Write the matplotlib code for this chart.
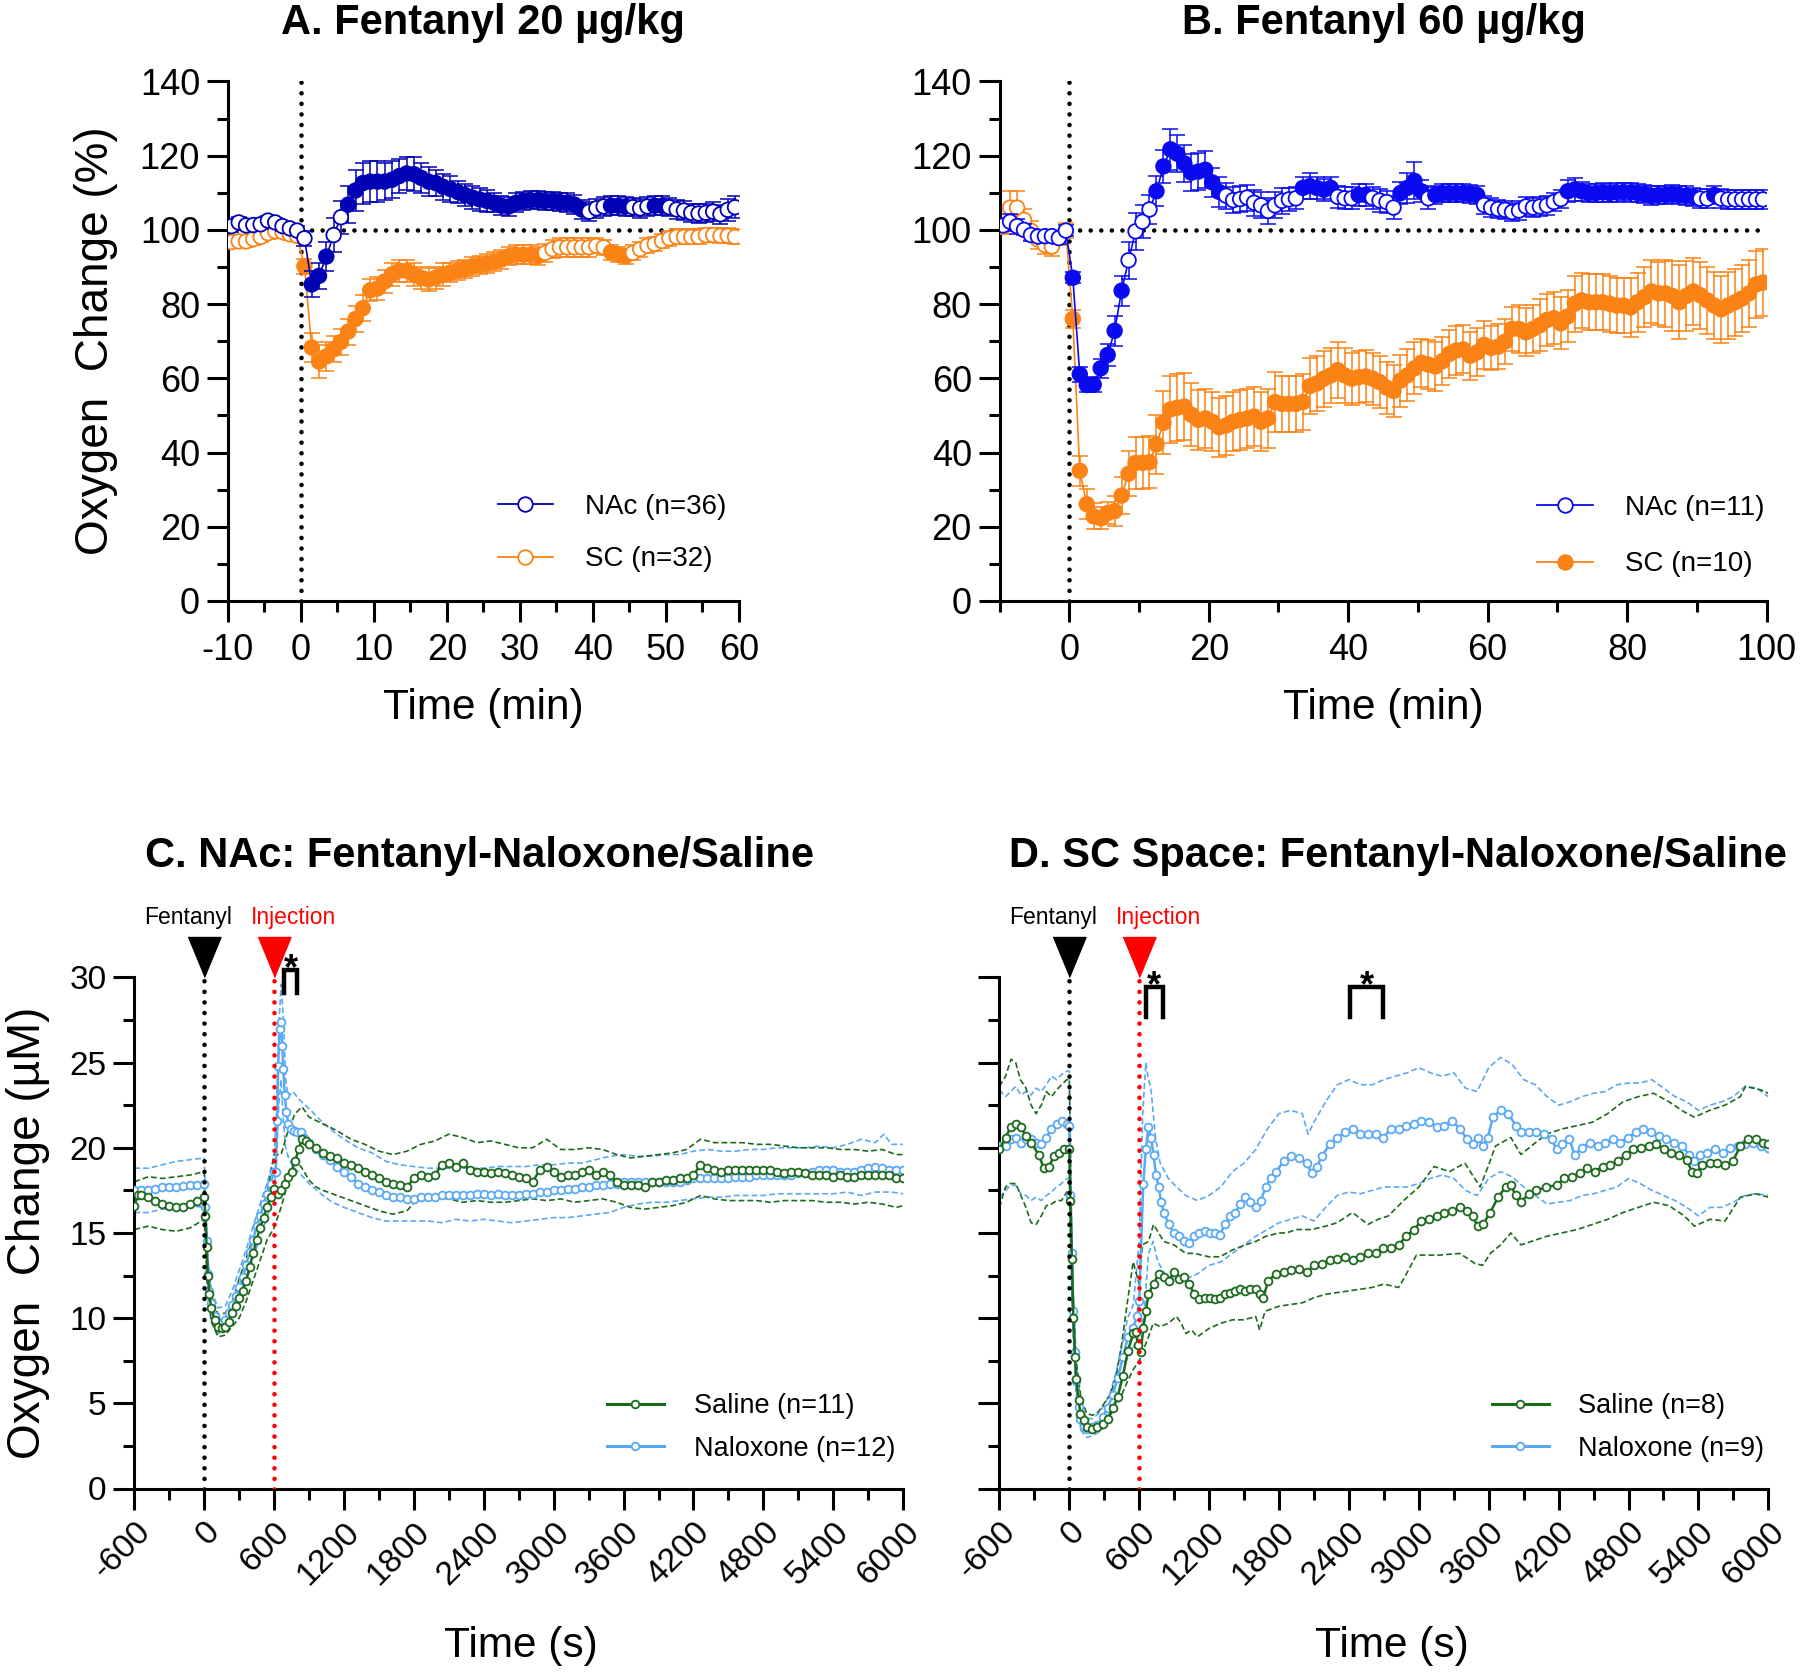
import numpy as np
import matplotlib
matplotlib.use('Agg')
import matplotlib.pyplot as plt
from matplotlib.lines import Line2D
from matplotlib import font_manager as fm

# ======================= DATA =======================
# Panel A: Fentanyl 20 ug/kg (1-min bins, centred on half minutes)
a_time = np.arange(-9.5, 60, 1.0)
a_nac = [101.0, 102.0, 101.2, 101.3, 101.5, 102.5, 102.0, 101.0, 100.4, 99.8,
         97.7, 85.3, 87.6, 92.8, 98.6, 103.4, 106.8, 110.6, 112.6, 113.0,
         113.0, 113.0, 113.5, 114.5, 115.2, 115.0, 114.0, 113.0, 112.6, 111.6,
         111.0, 110.2, 109.4, 108.7, 108.2, 107.8, 107.3, 106.5, 106.3, 107.3,
         107.8, 108.0, 108.0, 107.8, 107.8, 107.5, 107.3, 106.8, 105.5, 104.9,
         105.8, 106.3, 106.5, 106.5, 106.3, 106.1, 105.8, 106.3, 106.5, 106.5,
         106.1, 105.5, 105.2, 104.6, 104.4, 104.6, 104.9, 104.2, 105.4, 106.1]
a_nac_sem = [1.5, 1.5, 1.2, 1.2, 1.2, 1.2, 1.2, 1.2, 1.2, 1.2,
             2.0, 3.5, 3.5, 4.0, 4.5, 4.5, 5.0, 5.5, 5.5, 5.5,
             5.5, 5.0, 5.0, 4.5, 4.5, 4.5, 4.0, 4.0, 3.5, 3.5,
             3.5, 3.0, 3.0, 3.0, 3.0, 3.0, 2.5, 2.5, 2.5, 2.5,
             2.5, 2.5, 2.5, 2.5, 2.5, 2.5, 2.5, 2.5, 2.5, 2.5,
             2.5, 2.5, 2.5, 2.5, 2.5, 2.5, 2.5, 2.5, 2.5, 2.5,
             2.5, 2.5, 2.5, 2.5, 2.5, 2.5, 2.5, 2.5, 3.0, 3.0]
a_nac_sig = [(1.5, 3.5), (6.5, 38.5), (42.5, 44.5), (48.5, 49.5)]
a_sc = [96.7, 96.9, 96.9, 97.5, 98.1, 99.1, 99.6, 99.4, 98.8, 98.4,
        90.2, 68.3, 64.5, 65.9, 67.8, 69.8, 72.6, 76.0, 78.9, 83.7,
        84.2, 86.1, 88.0, 89.0, 89.0, 88.0, 87.1, 86.6, 87.1, 88.0,
        88.5, 89.0, 89.5, 90.2, 90.5, 90.9, 91.4, 92.0, 92.9, 93.3,
        93.3, 93.3, 92.9, 93.8, 94.8, 95.3, 95.3, 95.3, 95.3, 95.3,
        95.7, 95.3, 94.0, 93.3, 92.9, 93.8, 94.8, 95.7, 96.2, 97.0,
        97.7, 98.1, 98.1, 98.1, 98.1, 98.6, 98.6, 98.4, 98.4, 98.1]
a_sc_sem = [1.5] * 10 + \
           [2.0, 4.0, 4.5, 4.0, 3.5, 3.5, 3.5, 3.5, 3.5, 3.0] + \
           [3.0] * 10 + [2.5] * 10 + [2.5] * 10 + [2.0] * 10 + [2.0] * 10
a_sc_sig = [(0.5, 32.5), (42.5, 44.5)]

# Panel B: Fentanyl 60 ug/kg
b_time = np.arange(-9.5, 100, 1.0)
b_nac = [101.2, 102.2, 101.0, 100.0, 98.6, 98.2, 98.3, 98.3, 97.8, 99.8,
         87.1, 61.1, 58.2, 58.3, 62.7, 66.3, 72.8, 83.6, 91.8, 99.6,
         102.2, 105.5, 110.4, 117.1, 121.7, 120.5, 117.9, 115.4, 115.7, 116.2,
         112.8, 110.2, 109.2, 108.0, 108.3, 108.7, 107.3, 106.6, 105.1, 106.6,
         107.8, 108.2, 108.5, 111.3, 111.8, 111.3, 110.8, 111.3, 108.9, 108.5,
         108.5, 109.4, 109.4, 108.6, 107.9, 107.5, 106.0, 109.9, 111.3, 113.2,
         110.4, 108.5, 109.4, 109.9, 109.9, 109.9, 109.9, 109.7, 109.4, 106.7,
         106.0, 105.6, 105.4, 104.8, 105.2, 106.3, 106.0, 106.3, 106.6, 107.5,
         108.3, 110.4, 110.9, 110.4, 109.9, 109.9, 110.1, 109.9, 110.1, 110.2,
         110.1, 109.9, 109.7, 109.2, 109.4, 109.4, 109.7, 109.4, 109.2, 108.9,
         108.4, 108.4, 109.4, 108.4, 108.2, 108.2, 108.2, 108.2, 108.2, 108.2]
b_nac_sem = [1.5, 2.0, 2.0, 1.5, 1.5, 1.5, 1.5, 1.5, 1.5, 1.5,
             1.5, 2.0, 2.0, 2.0, 2.5, 3.0, 4.0, 4.0, 5.0, 5.0,
             4.5, 4.0, 4.0, 4.5, 5.5, 5.0, 5.0, 5.0, 5.0, 5.0,
             4.0, 4.0, 3.5, 3.5, 3.5, 3.5, 3.5, 3.5, 3.5, 3.5,
             3.5, 3.0, 3.0, 3.0, 3.5, 3.0, 3.0, 3.0, 3.0, 3.0,
             3.0, 3.0, 3.0, 3.0, 3.0, 3.0, 3.0, 3.0, 4.0, 5.0,
             3.0, 3.0, 2.5, 2.5, 2.5, 2.5, 2.5, 2.5, 2.5, 2.5,
             2.5, 2.5, 2.5, 2.5, 2.5, 2.5, 2.5, 2.5, 2.5, 2.5,
             2.5, 3.0, 3.0, 2.5, 2.5, 2.5, 2.5, 2.5, 2.5, 2.5,
             2.5, 2.5, 2.5, 2.5, 2.5, 2.5, 2.5, 2.5, 2.5, 2.5,
             2.5, 2.5, 2.5, 2.5, 2.5, 2.5, 2.5, 2.5, 2.5, 2.5]
b_nac_sig = [(0.5, 7.5), (12.5, 21.5), (33.5, 37.5), (41.5, 42.5),
             (47.5, 50.5), (52.5, 58.5), (71.5, 89.5), (92.5, 92.5)]
b_sc = [100.8, 106.0, 106.0, 102.7, 99.8, 97.4, 95.9, 95.5, 97.8, 99.8,
        76.0, 35.1, 26.1, 22.8, 22.3, 23.7, 24.2, 28.4, 34.3, 37.2,
        37.2, 37.4, 42.2, 48.0, 51.6, 52.1, 52.4, 50.2, 48.8, 49.2,
        48.3, 46.8, 47.3, 48.3, 48.8, 49.2, 49.7, 48.3, 49.2, 53.6,
        53.1, 53.1, 53.1, 53.6, 57.9, 58.6, 59.9, 60.8, 62.2, 60.8,
        59.9, 60.3, 60.5, 59.9, 59.0, 57.5, 56.6, 59.4, 60.8, 62.7,
        64.2, 63.7, 63.2, 64.6, 66.6, 67.5, 67.8, 66.1, 67.0, 69.0,
        68.2, 68.5, 69.9, 73.3, 73.3, 72.4, 73.3, 74.3, 75.7, 76.2,
        74.8, 76.7, 80.1, 81.0, 80.5, 80.5, 80.5, 80.1, 79.6, 79.6,
        79.1, 80.5, 81.9, 83.4, 82.9, 82.9, 82.2, 80.5, 82.2, 83.4,
        82.4, 81.0, 79.6, 78.6, 79.6, 80.5, 81.5, 82.9, 85.3, 85.8]
b_sc_sem = [2.0, 4.5, 4.5, 3.0, 2.5, 2.5, 2.5, 2.5, 2.0, 2.0,
            2.5, 4.0, 4.0, 3.5, 3.0, 3.0, 4.0, 5.0, 6.0, 7.0,
            7.0, 7.0, 8.0, 8.5, 9.0, 9.0, 9.0, 8.5, 8.0, 8.0,
            8.0, 8.0, 8.0, 8.0, 8.0, 8.0, 8.0, 8.0, 8.0, 8.0,
            7.5, 7.5, 7.5, 7.5, 7.5, 7.5, 7.5, 7.5, 7.5, 7.5,
            7.0, 7.0, 7.0, 7.0, 7.0, 7.0, 7.0, 7.0, 7.0, 7.0,
            6.5, 6.5, 6.5, 6.5, 6.5, 6.5, 6.5, 6.5, 6.5, 6.5,
            6.0, 6.0, 6.0, 6.0, 6.5, 6.5, 6.5, 7.0, 7.0, 7.0,
            7.0, 7.0, 7.5, 7.5, 7.5, 7.5, 7.5, 7.5, 7.5, 7.5,
            8.0, 8.0, 8.0, 8.5, 8.5, 9.0, 9.5, 10.0, 9.5, 9.0,
            9.0, 9.0, 9.0, 9.0, 9.0, 9.0, 9.0, 9.0, 9.0, 9.0]
b_sc_sig = [(0.5, 99.5)]

# Panel C: NAc, fentanyl then naloxone/saline (time in s, O2 in uM)
c_sal_t = [-600, -570, -540, -480, -420, -360, -300, -240, -180, -120, -60, 0,
           10, 20, 30, 45, 60, 90] + list(range(120, 901, 30)) + list(range(960, 6001, 60))
c_sal = [16.6, 17.2, 17.2, 17.1, 16.9, 16.7, 16.6, 16.5, 16.5, 16.7, 16.9, 17.1,
         16.0, 14.2, 12.5, 11.4, 10.6, 9.9,
         9.5, 9.4, 9.5, 9.8, 10.3, 10.7, 11.2, 11.6, 12.2, 13.0, 13.8, 14.6, 15.3, 15.9,
         16.5, 17.1, 17.6, 17.3, 17.5, 17.9, 18.3, 18.6, 19.2, 19.9, 20.5, 20.4, 20.2,
         20.0, 19.7, 19.5, 19.4, 19.1, 19.0, 18.8, 18.6, 18.4, 18.2,
         18.0, 17.9, 17.8, 17.7, 18.2, 18.4, 18.3, 18.4, 19.0, 19.1,
         18.9, 19.1, 18.7, 18.6, 18.6, 18.5, 18.6, 18.5, 18.4, 18.3,
         18.2, 18.0, 18.7, 18.9, 18.6, 18.3, 18.4, 18.4, 18.6, 18.7,
         18.4, 18.6, 18.4, 18.0, 17.8, 17.8, 17.8, 17.7, 18.0, 18.0,
         18.1, 18.1, 18.2, 18.2, 18.4, 19.0, 18.8, 18.7, 18.6, 18.7,
         18.7, 18.7, 18.7, 18.7, 18.7, 18.7, 18.6, 18.5, 18.6, 18.6,
         18.5, 18.4, 18.4, 18.4, 18.3, 18.4, 18.3, 18.3, 18.4, 18.4,
         18.4, 18.4, 18.4, 18.2, 18.2]
c_nal_t = [-600, -540, -480, -420, -360, -300, -240, -180, -120, -60, 0,
           10, 20, 30, 45, 60, 90] + list(range(120, 601, 30)) + \
          [613, 626, 635, 648, 661, 670, 679, 692, 705, 723, 745, 770, 800, 830, 860, 900] + \
          list(range(960, 6001, 60))
c_nal = [17.5, 17.5, 17.55, 17.6, 17.7, 17.7, 17.7, 17.75, 17.8, 17.8, 17.9,
         16.5, 14.5, 12.6, 11.6, 10.9, 10.1,
         9.8, 9.7, 9.9, 10.3, 10.8, 11.3, 11.8, 12.4, 13.1, 13.9, 14.6, 15.4, 16.0, 16.7,
         17.3, 17.9, 18.6,
         18.6, 21.6, 24.8, 27.0, 27.4, 26.0, 24.6, 23.1, 22.1, 21.4, 21.1, 21.0, 20.9,
         20.9, 20.6, 20.3,
         19.9, 19.6, 19.3, 18.9, 18.6, 18.3, 17.9, 17.7, 17.5, 17.4,
         17.2, 17.1, 17.1, 17.0, 17.0, 17.1, 17.1, 17.1, 17.2, 17.2,
         17.2, 17.2, 17.2, 17.3, 17.3, 17.2, 17.3, 17.2, 17.2, 17.2,
         17.3, 17.3, 17.4, 17.4, 17.5, 17.5, 17.6, 17.6, 17.7, 17.7,
         17.8, 17.8, 17.9, 17.9, 18.0, 18.0, 18.0, 18.0, 18.0, 18.0,
         18.0, 18.0, 18.0, 18.1, 18.2, 18.2, 18.2, 18.2, 18.2, 18.2,
         18.3, 18.3, 18.3, 18.4, 18.4, 18.4, 18.4, 18.4, 18.4, 18.5,
         18.5, 18.6, 18.7, 18.7, 18.7, 18.6, 18.6, 18.6, 18.7, 18.8,
         18.9, 18.8, 18.7, 18.7, 18.7]
c_sal_band_t = [-600, -480, -360, -240, -120, 0, 30, 60] + list(range(120, 901, 60)) + \
               [960, 1020] + list(range(1140, 5941, 120)) + [6000]
c_sal_hi = [18.0, 18.3, 18.2, 18.3, 18.4, 18.6, 13.5, 11.3,
            10.2, 10.3, 11.0, 12.3, 13.5, 14.8, 16.0, 17.3, 19.6, 19.6, 21.0, 22.0, 22.4, 21.8,
            21.6, 21.4,
            21.0, 20.5, 20.2, 19.8, 19.6, 19.8, 20.2, 20.4, 20.8, 20.6,
            20.3, 20.4, 20.2, 20.0, 20.0, 20.5, 19.9, 19.9, 20.0, 19.9,
            19.6, 19.4, 19.5, 19.6, 19.7, 19.9, 20.5, 20.3, 20.3, 20.3,
            20.2, 20.2, 20.1, 20.0, 20.0, 20.0, 19.9, 19.9, 19.8, 19.9,
            19.6, 19.6]
c_sal_lo = [15.2, 15.4, 15.2, 15.1, 15.3, 15.8, 11.5, 9.8,
            8.9, 9.0, 9.5, 10.0, 11.0, 12.2, 13.4, 14.6, 15.3, 16.5, 18.0, 19.3, 18.8, 18.1,
            17.7, 17.5,
            17.2, 16.9, 16.6, 16.3, 16.1, 16.3, 17.2, 17.1, 17.0, 16.8,
            16.9, 16.8, 16.8, 16.9, 17.0, 16.9, 17.0, 16.8, 16.9, 17.0,
            16.8, 16.5, 16.4, 16.5, 16.6, 16.8, 17.2, 17.0, 16.9, 16.9,
            16.9, 16.8, 16.9, 16.9, 16.9, 16.8, 16.8, 16.7, 16.8, 16.7,
            16.5, 16.6]
c_nal_band_t = [-600, -480, -360, -240, -120, 0, 30, 60] + list(range(120, 601, 60)) + \
               [620, 640, 660, 680, 700, 720, 760, 820, 900, 1000, 1100, 1200] + \
               list(range(1320, 5761, 120)) + [5835, 5900, 6000]
c_nal_hi = [18.8, 18.8, 19.0, 19.2, 19.3, 19.4, 13.5, 11.6,
            10.6, 10.7, 11.6, 12.8, 14.0, 15.4, 16.7, 17.9, 19.5,
            22.0, 27.0, 29.6, 27.5, 24.0, 23.0, 23.3, 22.8, 22.3, 21.6, 21.0, 20.5,
            20.0, 19.7, 19.2, 19.0, 18.9, 18.8, 18.8, 18.8, 18.8, 18.8,
            18.9, 18.9, 18.9, 19.0, 19.0, 19.1, 19.1, 19.3, 19.5, 19.6,
            19.5, 19.5, 19.6, 19.6, 19.8, 19.9, 19.8, 19.8, 19.9, 19.9,
            20.0, 20.0, 20.0, 20.1, 20.0, 20.2, 20.5, 20.3,
            20.8, 20.2, 20.2]
c_nal_lo = [16.2, 16.2, 16.4, 16.4, 16.6, 16.5, 11.8, 10.2,
            9.1, 9.3, 10.0, 10.9, 12.1, 13.5, 14.8, 15.9, 17.5,
            19.0, 22.5, 24.0, 21.5, 20.0, 19.5, 18.9, 18.5, 17.9, 17.3, 16.8, 16.5,
            16.2, 15.9, 15.7, 15.7, 15.7, 15.7, 15.6, 15.8, 15.7, 15.8,
            15.7, 15.6, 15.7, 15.8, 15.9, 15.9, 16.0, 16.1, 16.2, 16.5,
            16.7, 16.8, 16.8, 16.9, 17.0, 17.1, 17.1, 17.2, 17.2, 17.2,
            17.3, 17.3, 17.3, 17.3, 17.3, 17.4, 17.2, 17.4,
            17.4, 17.4, 17.3]
c_sig_windows = [(685, 797)]

# Panel D: SC space
d_sal_t = [-600, -547, -504, -460, -416, -372, -328, -263, -219, -175,
           -131, -88, -44, 0, 9, 22, 35, 48, 61, 79,
           96, 123, 153, 197, 241, 285, 329, 372, 416, 460,
           504, 548, 569, 591, 613, 635, 657, 679, 723, 767,
           810, 854, 898, 942, 986, 1029, 1073, 1117, 1161, 1205,
           1248, 1292, 1336, 1380, 1424, 1467, 1511, 1555, 1599, 1634,
           1665, 1708, 1774, 1840, 1905, 1971, 2037, 2103, 2168, 2234,
           2300, 2366, 2431, 2497, 2563, 2629, 2695, 2760, 2826, 2892,
           2958, 3023, 3089, 3155, 3220, 3286, 3352, 3418, 3461, 3505,
           3549, 3614, 3680, 3746, 3790, 3833, 3877, 3943, 4009, 4096,
           4183, 4249, 4315, 4380, 4446, 4512, 4577, 4643, 4709, 4775,
           4840, 4906, 4972, 5038, 5103, 5169, 5235, 5300, 5344, 5388,
           5432, 5498, 5563, 5629, 5695, 5760, 5826, 5892, 5957, 6000]
d_sal = [19.9, 20.6, 21.2, 21.4, 21.2, 20.7, 20.3, 19.6, 18.8, 18.9,
         19.5, 19.7, 19.9, 19.9, 16.9, 13.5, 10.0, 7.7, 6.4, 5.2,
         4.4, 4.0, 3.6, 3.5, 3.6, 3.8, 4.1, 4.7, 5.4, 6.6,
         8.1, 9.1, 9.2, 8.4, 8.0, 9.4, 10.4, 11.4, 12.0, 12.6,
         12.4, 12.2, 12.7, 12.3, 12.4, 12.0, 11.4, 11.1, 11.2, 11.2,
         11.1, 11.2, 11.4, 11.5, 11.6, 11.7, 11.6, 11.7, 11.7, 11.4,
         11.2, 12.2, 12.6, 12.7, 12.8, 12.9, 12.7, 13.1, 13.2, 13.4,
         13.5, 13.6, 13.4, 13.6, 13.8, 13.8, 14.1, 14.1, 14.3, 14.8,
         15.2, 15.7, 15.8, 16.0, 16.2, 16.3, 16.5, 16.3, 16.0, 15.4,
         15.5, 16.2, 17.1, 17.7, 17.8, 17.2, 16.8, 17.3, 17.5, 17.7,
         17.8, 18.2, 18.3, 18.5, 18.8, 18.6, 18.9, 19.0, 19.2, 19.6,
         19.9, 20.0, 20.1, 20.2, 19.9, 19.7, 19.6, 19.3, 18.6, 18.5,
         19.0, 19.1, 19.1, 19.0, 19.2, 20.1, 20.5, 20.5, 20.3, 20.2]
d_nal_t = [-600, -547, -504, -460, -416, -372, -328, -285, -241, -197,
           -153, -109, -66, -22, 0, 9, 22, 35, 48, 61,
           79, 96, 123, 153, 197, 241, 285, 329, 372, 416,
           460, 504, 548, 580, 600, 635, 657, 679, 701, 723,
           745, 767, 789, 810, 854, 898, 942, 986, 1029, 1073,
           1117, 1161, 1205, 1248, 1292, 1336, 1380, 1424, 1467, 1511,
           1555, 1599, 1643, 1686, 1730, 1774, 1840, 1905, 1971, 2037,
           2081, 2125, 2168, 2234, 2300, 2366, 2431, 2497, 2563, 2629,
           2695, 2760, 2826, 2892, 2958, 3023, 3089, 3155, 3220, 3286,
           3352, 3418, 3461, 3505, 3549, 3592, 3636, 3702, 3768, 3833,
           3877, 3943, 4009, 4074, 4140, 4183, 4227, 4293, 4337, 4402,
           4468, 4534, 4600, 4665, 4731, 4797, 4862, 4928, 4994, 5060,
           5125, 5191, 5257, 5322, 5366, 5410, 5476, 5541, 5607, 5673,
           5738, 5804, 5870, 5935, 6000]
d_nal = [20.1, 20.1, 20.5, 20.6, 20.3, 20.5, 20.5, 20.3, 20.2, 20.6,
         21.1, 21.4, 21.6, 21.4, 21.3, 17.2, 13.8, 10.4, 8.0, 6.3,
         4.8, 4.1, 3.6, 3.5, 3.6, 3.7, 4.2, 4.7, 5.5, 6.5,
         7.7, 8.9, 9.4, 10.1, 11.0, 17.9, 19.9, 21.2, 20.6, 19.6,
         18.4, 17.7, 16.8, 16.2, 15.5, 15.0, 14.8, 14.5, 14.4, 14.8,
         15.0, 15.1, 15.0, 15.0, 14.9, 15.5, 16.0, 16.2, 16.7, 17.1,
         16.8, 16.5, 16.9, 17.7, 18.2, 18.6, 19.2, 19.5, 19.4, 19.1,
         18.5, 18.9, 19.5, 20.2, 20.6, 20.9, 21.1, 20.8, 20.8, 20.8,
         20.6, 21.1, 21.1, 21.3, 21.4, 21.6, 21.5, 21.2, 21.3, 21.6,
         21.1, 20.5, 20.2, 20.6, 20.1, 20.6, 21.8, 22.2, 22.0, 21.3,
         20.9, 20.9, 20.9, 20.8, 20.5, 19.9, 20.2, 20.5, 19.6, 20.0,
         20.3, 20.1, 20.3, 20.5, 20.3, 20.6, 20.9, 21.1, 20.9, 20.7,
         20.5, 20.3, 20.1, 19.6, 19.2, 19.6, 19.7, 19.9, 19.7, 20.0,
         20.1, 20.2, 20.3, 20.1, 20.0]
d_sal_hi_t = [-600, -547, -500, -460, -420, -372, -328, -285, -241, -197,
              -153, -109, -66, -22, 0, 10, 20, 35, 60, 100,
              150, 200, 250, 300, 350, 400, 450, 500, 548, 600,
              627, 680, 723, 767, 810, 898, 1000, 1073, 1200, 1292,
              1400, 1511, 1600, 1686, 1800, 1862, 1950, 2081, 2200, 2300,
              2431, 2563, 2650, 2739, 2870, 3001, 3132, 3264, 3395, 3527,
              3600, 3658, 3790, 3877, 3965, 4096, 4227, 4359, 4490, 4621,
              4753, 4884, 5016, 5147, 5279, 5366, 5498, 5629, 5760, 5804,
              5935, 6000]
d_sal_hi = [23.6, 24.2, 25.2, 25.0, 24.0, 23.5, 22.5, 22.0, 22.5, 23.3,
            23.0, 23.4, 23.7, 24.0, 24.0, 20.0, 15.0, 11.0, 7.5, 5.3,
            4.4, 4.3, 4.5, 5.0, 5.5, 6.5, 8.5, 11.0, 13.3, 12.0,
            14.3, 14.5, 15.5, 15.0, 14.5, 14.3, 13.8, 13.8, 13.6, 13.6,
            14.0, 14.3, 14.5, 14.8, 15.0, 15.0, 15.2, 15.2, 15.4, 15.6,
            16.2, 15.5, 15.8, 16.0, 16.9, 17.7, 18.9, 18.6, 19.1, 17.7,
            19.0, 20.1, 20.6, 19.6, 20.1, 20.8, 21.1, 21.3, 21.5, 22.0,
            22.7, 23.0, 23.2, 22.7, 22.1, 21.8, 22.2, 22.5, 23.0, 23.6,
            23.4, 23.2]
d_sal_lo_t = [-600, -547, -504, -460, -416, -372, -328, -285, -241, -197,
              -153, -109, -66, -22, 0, 10, 30, 60, 100, 150,
              200, 250, 300, 350, 400, 450, 500, 550, 600, 640,
              680, 720, 780, 850, 920, 960, 1000, 1050, 1100, 1200,
              1300, 1400, 1500, 1600, 1634, 1680, 1800, 1900, 2000, 2100,
              2200, 2300, 2400, 2500, 2600, 2700, 2826, 2870, 2980, 3176,
              3352, 3483, 3549, 3614, 3702, 3790, 3877, 3965, 4096, 4227,
              4359, 4490, 4621, 4753, 4884, 5016, 5147, 5279, 5366, 5498,
              5629, 5760, 5892, 6000]
d_sal_lo = [16.5, 17.7, 17.9, 17.9, 17.2, 16.5, 15.6, 15.5, 16.0, 16.6,
            16.7, 16.9, 16.9, 17.4, 17.4, 15.0, 10.0, 5.8, 4.0, 3.4,
            3.4, 3.6, 3.9, 4.3, 4.9, 5.5, 6.3, 7.0, 7.5, 8.2,
            8.9, 9.7, 9.5, 9.7, 10.1, 9.7, 9.1, 9.3, 8.9, 9.4,
            9.7, 9.9, 9.9, 10.1, 9.3, 10.4, 10.7, 10.8, 10.9, 11.2,
            11.4, 11.5, 11.6, 11.7, 11.8, 12.0, 11.8, 12.3, 13.7, 13.7,
            13.8, 13.2, 13.1, 13.8, 14.3, 15.0, 14.3, 14.5, 14.8, 15.0,
            15.2, 15.5, 15.8, 16.2, 16.5, 16.8, 16.6, 16.0, 15.4, 15.8,
            15.7, 17.1, 17.3, 17.1]
d_nal_hi_t = [-600, -547, -504, -460, -416, -372, -328, -285, -241, -197,
              -153, -109, -66, -22, 0, 10, 30, 60, 100, 150,
              200, 250, 300, 350, 400, 450, 500, 550, 600, 630,
              657, 680, 700, 740, 780, 850, 920, 1000, 1100, 1200] + list(range(1300, 2001, 100)) + \
             [2050] + list(range(2100, 6001, 100))
d_nal_hi = [23.4, 23.0, 23.3, 23.6, 23.1, 23.3, 23.1, 23.5, 23.3, 23.7,
            24.2, 24.0, 24.3, 24.5, 24.5, 19.0, 12.0, 7.2, 4.9, 4.1,
            4.1, 4.4, 4.9, 5.6, 6.8, 8.3, 10.0, 10.8, 14.5, 22.0,
            25.0, 24.0, 23.5, 20.6, 19.1, 18.2, 17.7, 17.2, 16.9, 17.2,
            17.7, 18.6, 19.1, 19.9, 21.1, 22.0, 22.2, 22.0, 20.8, 21.5,
            22.7, 23.7, 24.0, 23.7, 23.7, 24.0, 24.2, 24.4, 24.7, 24.4,
            24.2, 24.4, 23.5, 23.3, 24.7, 25.3, 24.9, 24.0, 23.7, 23.0,
            22.5, 22.7, 23.0, 23.2, 23.3, 23.7, 23.8, 23.8, 24.0, 23.5,
            23.0, 22.7, 22.2, 22.5, 22.7, 23.0, 23.6, 23.5, 23.0]
d_nal_lo_t = [-600, -547, -504, -460, -416, -372, -328, -285, -241, -197,
              -153, -109, -66, -22, 0, 10, 30, 60, 100, 150,
              200, 250, 300, 350, 400, 450, 500, 550, 600, 640,
              680, 720, 760, 820, 900] + list(range(1000, 6001, 100))
d_nal_lo = [17.1, 17.5, 17.8, 17.8, 17.3, 17.2, 16.9, 17.1, 16.9, 17.2,
            17.4, 17.7, 17.9, 18.2, 18.2, 15.0, 9.5, 5.5, 3.4, 3.0,
            3.1, 3.3, 3.6, 4.2, 5.0, 6.5, 7.8, 8.3, 9.0, 10.1,
            13.8, 14.5, 13.3, 12.6, 12.3, 12.3, 12.6, 13.1, 13.3, 13.8,
            14.3, 14.8, 15.2, 15.6, 15.8, 16.0, 15.7, 16.5, 17.2, 17.4,
            17.3, 17.5, 17.7, 17.7, 17.7, 17.9, 18.2, 18.4, 18.2, 17.5,
            17.2, 18.2, 18.6, 18.3, 17.7, 17.2, 16.7, 16.8, 16.9, 17.2,
            17.3, 17.5, 17.7, 18.2, 17.9, 17.5, 17.2, 16.9, 16.5, 16.0,
            16.5, 16.5, 16.8, 17.2, 17.3, 17.2]
d_sig_windows = [(657, 802), (2409, 2693)]

events_t = [0, 600]
events_lbl = ['Fentanyl', 'Injection']

# ======================= STYLE =======================
plt.rcParams['font.family'] = ['Liberation Sans', 'DejaVu Sans']
plt.rcParams['axes.unicode_minus'] = False
_names = {f.name for f in fm.fontManager.ttflist}
NARROW = 'Liberation Sans Narrow' if 'Liberation Sans Narrow' in _names else 'Liberation Sans'
TICK_AB = 26
TICK_CD = 24

BLUE_A = '#0000B4'
BLUE_B = '#0A0AF0'
ORANGE = '#FB8214'
GREEN = '#1C6A1C'
LBLUE = '#5AA9F4'
RED = '#FF0000'

W, H = 1800, 1672
fig = plt.figure(figsize=(W / 100, H / 100), dpi=100)


def px_axes(l, t, r, b):
    return fig.add_axes([l / W, 1 - b / H, (r - l) / W, (b - t) / H])


axA = px_axes(227.8, 81.4, 738.7, 601)
axB = px_axes(999.6, 81.4, 1766.5, 601)
axC = px_axes(134.3, 977.4, 903.2, 1488.5)
axD = px_axes(999.4, 977.4, 1768.3, 1488.5)


def style(ax, fs, xpad=5):
    for s in ['top', 'right']:
        ax.spines[s].set_visible(False)
    for s in ['left', 'bottom']:
        ax.spines[s].set_linewidth(2.2)
    ax.tick_params(which='major', length=15, width=2.2, labelsize=fs, pad=5,
                   labelfontfamily=NARROW)
    ax.tick_params(axis='x', which='major', pad=xpad)
    ax.tick_params(which='minor', length=8, width=2.2)


DOT = dict(lw=3.3, ls=(0, (0.01, 2.3)), dash_capstyle='round')


def series_ab(ax, t, y, sem, sig, color, z, ms=10.5):
    t = np.asarray(t); y = np.asarray(y); sem = np.asarray(sem)
    filled = np.zeros(len(t), bool)
    for lo, hi in sig:
        filled |= (t >= lo - 1e-9) & (t <= hi + 1e-9)
    ax.errorbar(t, y, yerr=sem, fmt='none', ecolor=color, elinewidth=1.1,
                capsize=6, capthick=1.1, zorder=z)
    ax.plot(t, y, '-', color=color, lw=1.2, zorder=z + 0.1)
    fc = [color if f else 'white' for f in filled]
    ax.scatter(t, y, s=ms ** 2, facecolors=fc, edgecolors=color, linewidths=1.3,
               zorder=z + 0.2)


# ---------- Panel A ----------
ax = axA
style(ax, TICK_AB, xpad=8)
ax.set_xlim(-10, 60); ax.set_ylim(0, 140)
ax.set_xticks(np.arange(-10, 61, 10)); ax.set_xticks(np.arange(-5, 60, 5), minor=True)
ax.set_yticks(np.arange(0, 141, 20)); ax.set_yticks(np.arange(10, 140, 20), minor=True)
ax.plot([0, 0], [0, 140], color='k', zorder=1, **DOT)
ax.plot([0, 60], [100, 100], color='k', zorder=1, **DOT)
series_ab(ax, a_time, a_sc, a_sc_sem, a_sc_sig, ORANGE, 3)
series_ab(ax, a_time, a_nac, a_nac_sem, a_nac_sig, BLUE_A, 4)
hA = [Line2D([], [], color=BLUE_A, lw=1.3, marker='o', ms=10.5, mfc='white', mec=BLUE_A, mew=1.3),
      Line2D([], [], color=ORANGE, lw=1.3, marker='o', ms=10.5, mfc='white', mec=ORANGE, mew=1.3)]
ax.legend(hA, ['NAc (n=36)', 'SC (n=32)'], loc='center left', bbox_to_anchor=(0.528, 0.1305),
          frameon=False, fontsize=20, handlelength=1.98, handletextpad=1.17, labelspacing=0.95,
          borderpad=0, borderaxespad=0)

# ---------- Panel B ----------
ax = axB
style(ax, TICK_AB, xpad=8)
ax.set_xlim(-10, 100); ax.set_ylim(0, 140)
ax.set_xticks(np.arange(0, 101, 20)); ax.set_xticks(np.arange(-10, 100, 20), minor=True)
ax.set_yticks(np.arange(0, 141, 20)); ax.set_yticks(np.arange(10, 140, 20), minor=True)
ax.plot([0, 0], [0, 140], color='k', zorder=1, **DOT)
ax.plot([0, 100], [100, 100], color='k', zorder=1, **DOT)
series_ab(ax, b_time, b_sc, b_sc_sem, b_sc_sig, ORANGE, 3)
series_ab(ax, b_time, b_nac, b_nac_sem, b_nac_sig, BLUE_B, 4)
hB = [Line2D([], [], color=BLUE_B, lw=1.3, marker='o', ms=10.5, mfc='white', mec=BLUE_B, mew=1.3),
      Line2D([], [], color=ORANGE, lw=1.3, marker='o', ms=10.5, mfc=ORANGE, mec=ORANGE, mew=1.3)]
ax.legend(hB, ['NAc (n=11)', 'SC (n=10)'], loc='center left', bbox_to_anchor=(0.7008, 0.125),
          frameon=False, fontsize=20, handlelength=2.0, handletextpad=1.15, labelspacing=1.1,
          borderpad=0, borderaxespad=0)


# ---------- Panels C, D ----------
def trace(ax, t, y, color, z):
    ax.plot(t, y, '-', color=color, lw=1.8, zorder=z)
    ax.plot(t, y, 'o', ms=5.6, mfc='white', mec=color, mew=1.3, ls='none', zorder=z + 0.1)


def band(ax, t, y, color, z):
    ax.plot(t, y, color=color, lw=1.2, ls=(0, (3.5, 1.8)), zorder=z)


TRI = [(-16.5, 20), (16.5, 20), (0, -20)]


def panel_cd(ax, sal_t, sal, sal_hi_t, sal_hi, sal_lo_t, sal_lo,
             nal_t, nal, nal_hi_t, nal_hi, nal_lo_t, nal_lo,
             windows, br_top, br_bot, labels, show_ylabels):
    style(ax, TICK_CD)
    ax.set_xlim(-600, 6000); ax.set_ylim(0, 30)
    ax.set_xticks(np.arange(-600, 6001, 600)); ax.set_xticks(np.arange(-300, 6000, 600), minor=True)
    ax.set_yticks(np.arange(0, 31, 5)); ax.set_yticks(np.arange(2.5, 30, 5), minor=True)
    ax.set_xticklabels([str(v) for v in np.arange(-600, 6001, 600)], rotation=45,
                       ha='right', rotation_mode='anchor')
    if not show_ylabels:
        ax.tick_params(labelleft=False)
    band(ax, nal_hi_t, nal_hi, LBLUE, 2)
    band(ax, nal_lo_t, nal_lo, LBLUE, 2)
    band(ax, sal_hi_t, sal_hi, GREEN, 2.1)
    band(ax, sal_lo_t, sal_lo, GREEN, 2.1)
    trace(ax, nal_t, nal, LBLUE, 3)
    trace(ax, sal_t, sal, GREEN, 3.5)
    for t, c, lbl, dx in zip(events_t, ['k', RED], events_lbl, [-11.5, 14.1]):
        ax.plot([t, t], [0, 30], color=c, zorder=6, **DOT)
        ax.plot([t], [31.17], marker=TRI, ms=28.8, color=c, mec=c, clip_on=False, zorder=7)
        ax.annotate(lbl, xy=(t, 30), xytext=(dx, 38.4), textcoords='offset points',
                    ha='center', va='baseline', fontsize=16.5, color=c, annotation_clip=False)
    for t0, t1 in windows:
        ax.plot([t0, t0, t1, t1], [br_bot, br_top, br_top, br_bot], color='k', lw=3.2,
                solid_joinstyle='miter', clip_on=False, zorder=7)
        ax.text((t0 + t1) / 2, br_top - 0.55, '*', ha='center', va='baseline', fontsize=26,
                fontweight='bold', clip_on=False, zorder=7)
    hs = [Line2D([], [], color=GREEN, lw=2.2, marker='o', ms=5.5, mfc='white', mec=GREEN, mew=1.3),
          Line2D([], [], color=LBLUE, lw=2.2, marker='o', ms=5.5, mfc='white', mec=LBLUE, mew=1.3)]
    x0 = 0.6148 if show_ylabels else 0.6403
    ax.legend(hs, labels, loc='center left', bbox_to_anchor=(x0, 0.1195), frameon=False,
              fontsize=19.5, handlelength=2.1, handletextpad=1.1, labelspacing=0.6,
              borderpad=0, borderaxespad=0)


panel_cd(axC, c_sal_t, c_sal, c_sal_band_t, c_sal_hi, c_sal_band_t, c_sal_lo,
         c_nal_t, c_nal, c_nal_band_t, c_nal_hi, c_nal_band_t, c_nal_lo,
         c_sig_windows, 30.43, 29.1, ['Saline (n=11)', 'Naloxone (n=12)'], True)
panel_cd(axD, d_sal_t, d_sal, d_sal_hi_t, d_sal_hi, d_sal_lo_t, d_sal_lo,
         d_nal_t, d_nal, d_nal_hi_t, d_nal_hi, d_nal_lo_t, d_nal_lo,
         d_sig_windows, 29.43, 27.7, ['Saline (n=8)', 'Naloxone (n=9)'], False)

# ---------- Titles and axis labels ----------
def ftext(x, y, s, **kw):
    fig.text(x / W, 1 - y / H, s, **kw)


TT = dict(fontsize=30, fontweight='bold', ha='center', va='baseline')
ftext(483, 34.3, 'A. Fentanyl 20 µg/kg', **TT)
ftext(1384, 34.3, 'B. Fentanyl 60 µg/kg', **TT)
ftext(479, 867.3, 'C. NAc: Fentanyl-Naloxone/Saline', **TT)
ftext(1398, 867.3, 'D. SC Space: Fentanyl-Naloxone/Saline', **TT)

LB = dict(fontsize=30.5, ha='center', va='center')
ftext(483, 708, 'Time (min)', **LB)
ftext(1383, 708, 'Time (min)', **LB)
ftext(520.7, 1646, 'Time (s)', **LB)
ftext(1392, 1646, 'Time (s)', **LB)
LY = dict(fontsize=33, ha='center', va='center', rotation=90)
ftext(96, 341, 'Oxygen  Change (%)', **LY)
ftext(28.5, 1233, 'Oxygen  Change (µM)', **LY)

fig.savefig('out.png', dpi=100)
